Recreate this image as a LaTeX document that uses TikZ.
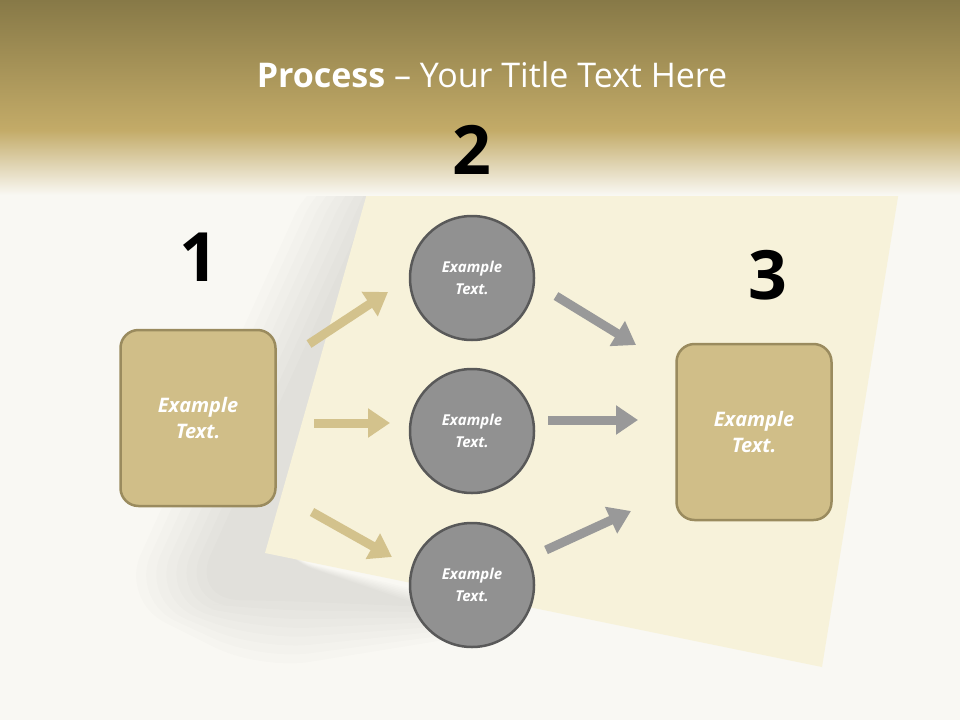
\documentclass[tikz,border=0pt]{standalone}
\usepackage{fontspec}
\setmainfont{Open Sans}
\usetikzlibrary{arrows.meta,fadings}
\definecolor{bandtop}{HTML}{877947}
\definecolor{bandmid}{HTML}{C3AB68}
\definecolor{bg}{HTML}{F9F8F3}
\definecolor{paper}{HTML}{F7F2DA}
\definecolor{boxfill}{HTML}{D0BE88}
\definecolor{boxline}{HTML}{9A8B5E}
\definecolor{goldarr}{HTML}{D3C28C}
\definecolor{greyarr}{HTML}{999999}
\tikzset{
  pbox/.style={draw=boxline,line width=2.5pt,fill=boxfill,rounded corners=18pt,minimum width=155pt,minimum height=176pt,text=white,font=\bfseries\itshape\fontsize{20}{26}\selectfont,align=center},
  pcirc/.style={circle,draw=black!65,line width=2.5pt,fill=greyarr!95!black,minimum size=124pt,text=white,font=\bfseries\itshape\fontsize{15}{22}\selectfont,align=center},
  num/.style={font=\bfseries\fontsize{68}{70}\selectfont},
  garr/.style={goldarr,line width=9pt,-{Triangle[length=22pt,width=28pt]}},
  karr/.style={greyarr,line width=9pt,-{Triangle[length=22pt,width=28pt]}}
}
\begin{document}
\begin{tikzpicture}[x=1pt,y=-1pt]
\useasboundingbox (0,0) rectangle (960,720);
\fill[bg] (0,0) rectangle (960,720);
% soft shadow
\foreach \d in {70,60,50,40,30,20,10,0}{
  \fill[black,opacity=0.012,rounded corners=50pt] (385-\d,170) -- (385,150) -- (265,553) -- (500,610+\d*0.3) -- (260,600+\d) -- (190-\d,600) -- cycle;
}
% paper
\fill[paper] (385,130) -- (908,135) -- (822,667) -- (265,553) -- cycle;
% band
\shade[top color=bandtop,bottom color=bandmid] (0,0) rectangle (960,130);
\shade[top color=bandmid,bottom color=bg] (0,130) rectangle (960,195);
\node[text=white,font=\fontsize{34}{40}\selectfont] (title) at (492,75) {\textbf{Process} -- Your Title Text Here};
\node[num] (n1) at (199,257) {1};
\node[num] (n2) at (472,150) {2};
\node[num] (n3) at (768,275) {3};
\node[pbox] (b1) at (198,418) {Example\\Text.};
\node[pbox] (b3) at (754,432) {Example\\Text.};
\node[pcirc] (c1) at (472,278) {Example\\Text.};
\node[pcirc] (c2) at (472,431) {Example\\Text.};
\node[pcirc] (c3) at (472,585) {Example\\Text.};
\coordinate (g1s) at (309,344); \coordinate (g1e) at (388,292);
\coordinate (g2s) at (314,423); \coordinate (g2e) at (390,423);
\coordinate (g3s) at (312,512); \coordinate (g3e) at (392,557);
\coordinate (k1s) at (556,296); \coordinate (k1e) at (636,345);
\coordinate (k2s) at (548,420); \coordinate (k2e) at (638,420);
\coordinate (k3s) at (546,550); \coordinate (k3e) at (631,511);
\draw[garr] (g1s) -- (g1e);
\draw[garr] (g2s) -- (g2e);
\draw[garr] (g3s) -- (g3e);
\draw[karr] (k1s) -- (k1e);
\draw[karr] (k2s) -- (k2e);
\draw[karr] (k3s) -- (k3e);
\end{tikzpicture}
\end{document}
